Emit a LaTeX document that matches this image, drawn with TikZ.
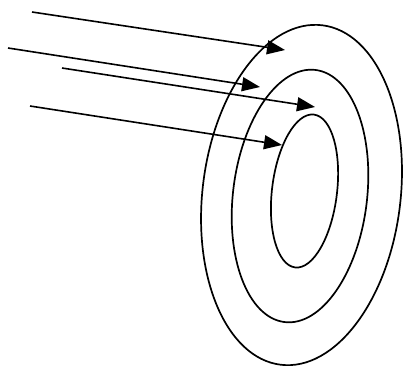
\documentclass[tikz,border=0pt]{standalone}
\usetikzlibrary{arrows.meta}
\tikzset{
  ring/.style={draw=black, line width=1.7pt},
  shot/.style={-{Triangle[length=18pt,width=14pt]}, line width=1.6pt, draw=black},
}
\begin{document}
\begin{tikzpicture}[x=1pt,y=-1pt]
  \useasboundingbox (0,0) rectangle (403,367);
  % target rings
  \foreach \n/\cx/\cy/\a/\b in {outer/301.5/195/99/171, middle/300/196/67/127, inner/304.5/191/32.5/77} {
    \coordinate (\n) at (\cx,\cy);
    \draw[ring, rotate around={-7:(\n)}] (\n) ellipse [x radius=\a, y radius=\b];
  }
  % arrows
  \foreach \i/\sx/\sy/\tx/\ty in {1/32/12/285/50, 2/8/48/260/87, 3/62/68/315/107, 4/30/106/282/145} {
    \coordinate (tail\i) at (\sx,\sy);
    \coordinate (tip\i) at (\tx,\ty);
    \draw[shot] (tail\i) -- (tip\i);
  }
\end{tikzpicture}
\end{document}
